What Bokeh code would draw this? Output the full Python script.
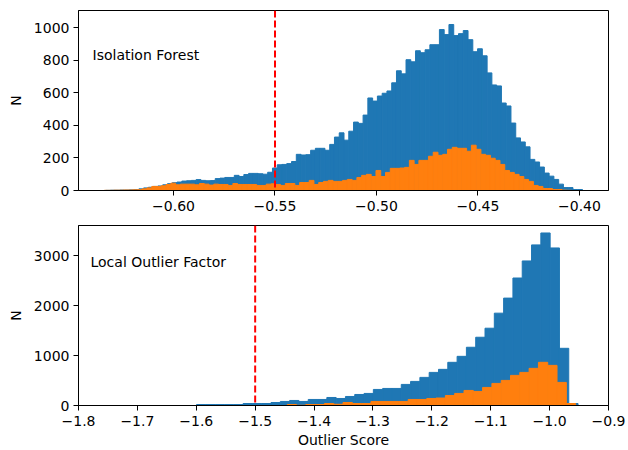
import numpy as np
from bokeh.plotting import figure
from bokeh.models import (Range1d, FixedTicker, Span, Label, CustomJSTickFormatter,
                          ColumnDataSource)
from bokeh.layouts import column
from bokeh.embed import file_html
from bokeh.resources import INLINE

# ---------------- data ----------------
# Isolation Forest histogram (100 bins)
if_all_start = -0.6335
if_out_start = -0.6342
if_bin_width = 0.00235
if_all_counts = [1, 2, 2, 3, 3, 4, 6, 10, 16, 20, 25, 28, 35, 42, 48, 52, 58, 60, 62, 67,
                 62, 60, 61, 73, 76, 80, 80, 93, 86, 98, 105, 105, 103, 100, 112, 138, 158, 160, 165, 178,
                 222, 218, 220, 247, 259, 259, 247, 283, 328, 354, 309, 364, 420, 412, 463, 568, 549, 580, 597, 611,
                 661, 735, 716, 803, 790, 858, 846, 864, 895, 895, 988, 957, 1019, 951, 963, 982, 926, 852, 870, 827,
                 722, 648, 642, 537, 519, 414, 323, 298, 268, 191, 175, 144, 107, 88, 68, 39, 18, 18, 6, 6]
if_sub_counts = [1, 1, 2, 2, 3, 3, 4, 5, 10, 16, 25, 25, 29, 37, 45, 35, 39, 39, 39, 35,
                 43, 39, 33, 39, 37, 37, 31, 43, 37, 37, 37, 37, 31, 31, 39, 41, 37, 31, 43, 43,
                 31, 49, 49, 62, 37, 49, 56, 62, 56, 56, 62, 68, 62, 80, 93, 99, 86, 123, 86, 111,
                 136, 136, 138, 142, 185, 160, 185, 185, 210, 235, 216, 222, 253, 265, 259, 259, 241, 278, 253, 222,
                 216, 198, 185, 160, 123, 111, 99, 86, 68, 56, 31, 25, 12, 12, 6, 6, 2, 1, 0, 0]
if_threshold = -0.55

# Local Outlier Factor histogram (41 visible bins)
lof_all_start = -1.5995
lof_out_start = -1.6036
lof_bin_width = 0.0158
lof_all_counts = [20, 20, 20, 20, 20, 40, 40, 40, 60, 81, 101, 81, 121, 121, 161, 141, 181, 221, 242, 322,
                  342, 342, 423, 483, 564, 664, 725, 866, 986, 1168, 1369, 1550, 1852, 2154, 2557, 2899, 3221, 3460,
                  3160, 1147, 40]
lof_sub_counts = [0, 0, 0, 0, 0, 0, 0, 0, 0, 0, 20, 5, 20, 20, 40, 25, 60, 40, 40, 81,
                  81, 81, 81, 121, 121, 141, 150, 201, 242, 302, 282, 362, 443, 503, 604, 664, 745, 866,
                  805, 463, 40]
lof_threshold = -1.5

if_xticks = [-0.60, -0.55, -0.50, -0.45, -0.40]
if_yticks = [0, 200, 400, 600, 800, 1000]
lof_xticks = [-1.8, -1.7, -1.6, -1.5, -1.4, -1.3, -1.2, -1.1, -1.0, -0.9]
lof_yticks = [0, 1000, 2000, 3000]

BLUE = "#1f77b4"
ORANGE = "#ff7f0e"
FONT = "DejaVu Sans"


def hist_source(start, width, counts):
    n = len(counts)
    left = start + width * np.arange(n)
    return ColumnDataSource(dict(left=left, right=left + width, top=np.array(counts, dtype=float)))


def fmt(dec):
    return CustomJSTickFormatter(code=(
        "const s = Math.abs(tick).toFixed(%d);"
        "return (tick < -1e-9 ? '\u2212' : '') + s;" % dec))


def style(p, xticks, yticks, dec):
    p.xaxis.ticker = FixedTicker(ticks=xticks)
    p.yaxis.ticker = FixedTicker(ticks=yticks)
    p.xaxis.formatter = fmt(dec)
    p.xgrid.visible = False
    p.ygrid.visible = False
    p.outline_line_color = "black"
    p.outline_line_width = 1
    for ax in (p.xaxis[0], p.yaxis[0]):
        ax.axis_line_color = "black"
        ax.major_tick_line_color = "black"
        ax.major_tick_out = 5
        ax.major_tick_in = 0
        ax.minor_tick_line_color = None
        ax.major_label_text_font = FONT
        ax.major_label_text_font_size = "14px"
        ax.major_label_text_color = "black"
        ax.axis_label_text_font = FONT
        ax.axis_label_text_font_size = "14px"
        ax.axis_label_text_font_style = "normal"
        ax.axis_label_text_color = "black"
    p.xaxis.major_label_standoff = 5
    p.yaxis.major_label_standoff = 4
    p.yaxis.axis_label = "N"
    p.yaxis.axis_label_standoff = 7
    p.background_fill_color = "white"
    p.border_fill_color = "white"


def hist(p, start, width, counts, color):
    p.quad(left="left", right="right", top="top", bottom=0,
           source=hist_source(start, width, counts),
           fill_color=color, line_color=color, line_width=1.0)


# ---------------- top: Isolation Forest ----------------
p1 = figure(width=628, height=220, output_backend="svg", toolbar_location=None,
            x_range=Range1d(-0.6468, -0.3857), y_range=Range1d(0, 1105),
            min_border_left=78, min_border_right=20, min_border_top=10, min_border_bottom=30)
hist(p1, if_all_start, if_bin_width, if_all_counts, BLUE)
hist(p1, if_out_start, if_bin_width, if_sub_counts, ORANGE)
p1.add_layout(Span(location=if_threshold, dimension="height", line_color="red",
                   line_width=2, line_dash="7 3"))
p1.add_layout(Label(x=14, y=136, x_units="screen", y_units="screen", text="Isolation Forest",
                    text_font=FONT, text_font_size="14px", text_baseline="middle",
                    text_color="black"))
style(p1, if_xticks, if_yticks, 2)

# ---------------- bottom: Local Outlier Factor ----------------
p2 = figure(width=628, height=230, output_backend="svg", toolbar_location=None,
            x_range=Range1d(-1.8, -0.9), y_range=Range1d(0, 3610),
            min_border_left=78, min_border_right=20, min_border_top=5, min_border_bottom=45)
hist(p2, lof_all_start, lof_bin_width, lof_all_counts, BLUE)
hist(p2, lof_out_start, lof_bin_width, lof_sub_counts, ORANGE)
p2.add_layout(Span(location=lof_threshold, dimension="height", line_color="red",
                   line_width=2, line_dash="7 3"))
p2.add_layout(Label(x=12, y=144, x_units="screen", y_units="screen", text="Local Outlier Factor",
                    text_font=FONT, text_font_size="14px", text_baseline="middle",
                    text_color="black"))
style(p2, lof_xticks, lof_yticks, 1)
p2.xaxis.axis_label = "Outlier Score"
p2.xaxis.axis_label_standoff = 3

layout = column(p1, p2, spacing=0)
open("out.html", "w").write(file_html(layout, INLINE))
